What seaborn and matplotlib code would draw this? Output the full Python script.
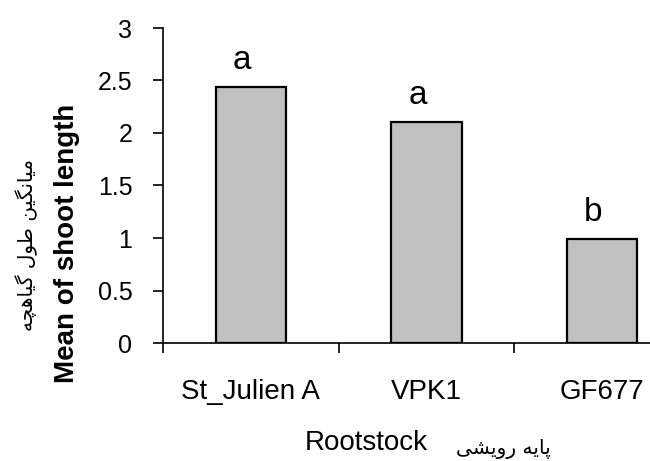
import numpy as np
import pandas as pd
import matplotlib
matplotlib.use('Agg')
import matplotlib.pyplot as plt
import seaborn as sns

# Data
rootstocks = ['St_Julien A', 'VPK1', 'GF677']
shoot_length = [2.44, 2.10, 0.99]
group_letters = ['a', 'a', 'b']
y_ticks = [0, 0.5, 1, 1.5, 2, 2.5, 3]
y_tick_labels = ['0', '0.5', '1', '1.5', '2', '2.5', '3']

ylabel_en = 'Mean of shoot length'
ylabel_fa = 'میانگین طول گیاهچه'
xlabel_en = 'Rootstock'
xlabel_fa = 'پایه رویشی'

# Persian letters -> (isolated, final, initial, medial) presentation forms
FORMS = {
    'ا': ('\uFE8D', '\uFE8E', None, None),
    'ر': ('\uFEAD', '\uFEAE', None, None),
    'و': ('\uFEED', '\uFEEE', None, None),
    'پ': ('\uFB56', '\uFB57', '\uFB58', '\uFB59'),
    'ی': ('\uFBFC', '\uFBFD', '\uFBFE', '\uFBFF'),
    'ه': ('\uFEE9', '\uFEEA', '\uFEEB', '\uFEEC'),
    'ش': ('\uFEB5', '\uFEB6', '\uFEB7', '\uFEB8'),
    'م': ('\uFEE1', '\uFEE2', '\uFEE3', '\uFEE4'),
    'ن': ('\uFEE5', '\uFEE6', '\uFEE7', '\uFEE8'),
    'گ': ('\uFB92', '\uFB93', '\uFB94', '\uFB95'),
    'ط': ('\uFEC1', '\uFEC2', '\uFEC3', '\uFEC4'),
    'ل': ('\uFEDD', '\uFEDE', '\uFEDF', '\uFEE0'),
    'چ': ('\uFB7A', '\uFB7B', '\uFB7C', '\uFB7D'),
}


def shape_fa(text):
    # matplotlib has no Arabic shaping, so pick the joined forms by hand
    out = []
    for i, ch in enumerate(text):
        if ch not in FORMS:
            out.append(ch)
            continue
        prev = text[i - 1] if i > 0 else None
        nxt = text[i + 1] if i + 1 < len(text) else None
        joins_prev = prev in FORMS and FORMS[prev][2] is not None
        joins_next = nxt in FORMS and FORMS[ch][2] is not None
        iso, fin, ini, med = FORMS[ch]
        if joins_prev and joins_next:
            out.append(med)
        elif joins_prev:
            out.append(fin)
        elif joins_next:
            out.append(ini)
        else:
            out.append(iso)
    return ''.join(out)[::-1]


df = pd.DataFrame({'Rootstock': rootstocks, 'Length': shoot_length})

sns.set_style('white')
plt.rcParams['font.family'] = ['Liberation Sans', 'DejaVu Sans']
plt.rcParams['text.color'] = 'black'
plt.rcParams['xtick.color'] = 'black'
plt.rcParams['ytick.color'] = 'black'

fig = plt.figure(figsize=(6.5, 4.61), dpi=100)
ax = fig.add_axes([163 / 650, 118 / 461, 527 / 650, 315 / 461])

sns.barplot(data=df, x='Rootstock', y='Length', color='#C0C0C0', saturation=1,
            edgecolor='black', linewidth=1.6, width=0.4, ax=ax)

ax.set_xlim(-0.5, 2.5)
ax.set_ylim(0, 3)
ax.set_yticks(y_ticks)
ax.set_yticklabels(y_tick_labels, fontsize=18)
ax.set_xticks(range(len(rootstocks)))
ax.set_xticklabels(rootstocks, fontsize=20)
ax.set_xticks(np.arange(-0.5, len(rootstocks), 1.0), minor=True)
ax.tick_params(axis='x', which='major', bottom=True, length=0, pad=26)
ax.tick_params(axis='x', which='minor', bottom=True, length=7, width=1.2, direction='out')
ax.tick_params(axis='y', which='major', left=True, length=7, width=1.2, direction='out', pad=15)
ax.set_xlabel('')
ax.set_ylabel('')

sns.despine(ax=ax)
for side in ['left', 'bottom']:
    ax.spines[side].set_color('black')
    ax.spines[side].set_linewidth(1.2)

for i, (val, letter) in enumerate(zip(shoot_length, group_letters)):
    ax.annotate(letter, (i - 0.05, val), xytext=(0, 13), textcoords='offset points',
                ha='center', va='baseline', fontsize=24)

fig.text(67 / 650, 1 - 243 / 461, ylabel_en, rotation=90, ha='center', va='center',
         fontsize=20, fontweight='bold')
fig.text(27 / 650, 1 - 245 / 461, shape_fa(ylabel_fa), rotation=90, ha='center', va='center',
         fontsize=14.5, family=['DejaVu Sans'])
fig.text(366 / 650, 1 - 443 / 461, xlabel_en, ha='center', va='center', fontsize=20)
fig.text(503 / 650, 1 - 449 / 461, shape_fa(xlabel_fa), ha='center', va='center',
         fontsize=14.5, family=['DejaVu Sans'])

fig.savefig('out.png', dpi=100)
